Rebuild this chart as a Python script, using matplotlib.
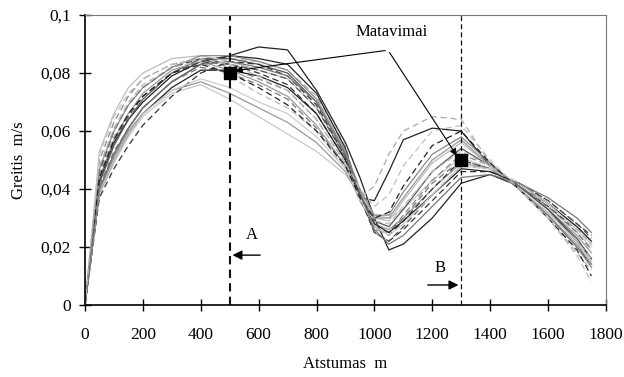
import matplotlib
matplotlib.use("Agg")
import matplotlib.pyplot as plt

# distances (m)
distance = [0, 50, 100, 150, 200, 300, 400, 500, 600, 700, 800, 900, 950,
            1000, 1050, 1100, 1200, 1300, 1400, 1500, 1600, 1700, 1750]

# velocity curves (m/s)
v01 = [0, .040, .052, .061, .068, .077, .083, .086, .089, .088, .074, .056, .044, .030, .019, .021, .030, .042, .045, .041, .033, .022, .016]
v02 = [0, .045, .058, .066, .072, .080, .084, .085, .084, .081, .072, .055, .037, .041, .052, .060, .065, .064, .049, .040, .030, .018, .012]
v03 = [0, .043, .056, .064, .070, .079, .084, .086, .085, .083, .073, .054, .037, .036, .046, .057, .061, .060, .048, .040, .031, .020, .014]
v04 = [0, .038, .049, .058, .065, .073, .076, .071, .065, .059, .053, .045, .038, .031, .030, .033, .043, .051, .047, .041, .034, .025, .020]
v05 = [0, .040, .051, .060, .066, .074, .077, .073, .068, .063, .056, .046, .037, .028, .026, .030, .040, .049, .047, .041, .033, .024, .018]
v06 = [0, .046, .060, .069, .075, .082, .085, .083, .080, .076, .066, .050, .038, .027, .024, .029, .040, .050, .047, .041, .034, .026, .021]
v07 = [0, .050, .063, .072, .078, .083, .085, .082, .078, .074, .064, .049, .037, .026, .025, .031, .043, .052, .048, .041, .035, .027, .022]
v08 = [0, .042, .055, .064, .071, .080, .085, .085, .083, .080, .070, .052, .039, .029, .027, .033, .046, .054, .048, .041, .033, .023, .016]
v09 = [0, .053, .066, .075, .080, .085, .086, .084, .081, .078, .068, .051, .039, .030, .029, .036, .049, .056, .048, .040, .032, .022, .015]
v10 = [0, .037, .047, .055, .062, .072, .080, .084, .083, .079, .069, .051, .037, .025, .022, .026, .036, .046, .046, .042, .036, .028, .024]
v11 = [0, .041, .053, .061, .068, .077, .082, .080, .076, .071, .061, .048, .036, .027, .025, .030, .042, .050, .047, .041, .034, .025, .019]
v12 = [0, .044, .057, .066, .073, .081, .084, .081, .077, .072, .062, .048, .037, .030, .030, .037, .050, .057, .048, .040, .031, .021, .014]
v13 = [0, .039, .050, .059, .066, .075, .081, .081, .079, .075, .066, .050, .038, .028, .025, .029, .038, .047, .046, .042, .035, .027, .022]
v14 = [0, .048, .061, .070, .076, .082, .084, .079, .073, .068, .060, .047, .036, .029, .028, .034, .046, .053, .048, .040, .032, .022, .016]
v15 = [0, .043, .056, .065, .072, .080, .084, .083, .081, .078, .068, .051, .038, .025, .022, .027, .038, .048, .047, .042, .036, .028, .023]
v16 = [0, .039, .050, .059, .066, .074, .078, .075, .070, .066, .058, .047, .037, .027, .024, .028, .038, .048, .047, .042, .035, .026, .021]
v17 = [0, .047, .060, .069, .075, .082, .086, .086, .084, .081, .071, .053, .040, .031, .031, .039, .052, .058, .049, .040, .031, .020, .013]
v18 = [0, .044, .057, .066, .072, .080, .083, .080, .075, .069, .060, .048, .037, .030, .032, .041, .055, .060, .049, .040, .030, .019, .010]
v19 = [0, .040, .052, .061, .068, .077, .083, .084, .082, .079, .070, .052, .039, .026, .021, .024, .034, .044, .045, .042, .037, .030, .025]
v20 = [0, .052, .065, .073, .078, .083, .085, .083, .079, .074, .064, .049, .040, .034, .038, .048, .060, .062, .050, .040, .030, .017, .008]

curves = [v01, v02, v03, v04, v05, v06, v07, v08, v09, v10,
          v11, v12, v13, v14, v15, v16, v17, v18, v19, v20]

# measured points
meas_x = [500, 1300]
meas_v = [0.080, 0.050]

x_ticks = [0, 200, 400, 600, 800, 1000, 1200, 1400, 1600, 1800]
y_ticks = [0, 0.02, 0.04, 0.06, 0.08, 0.1]
y_tick_labels = ["0", "0,02", "0,04", "0,06", "0,08", "0,1"]

# styles (colour, dash)
styles = [
    ("#222222", "-"), ("#aaaaaa", (0, (5, 3))), ("#222222", "-"), ("#c8c8c8", "-"),
    ("#999999", "-"), ("#333333", (0, (5, 3))), ("#888888", (0, (5, 3))), ("#555555", "-"),
    ("#bbbbbb", "-"), ("#333333", (0, (5, 3))), ("#777777", (0, (5, 3))), ("#999999", "-"),
    ("#222222", "-"), ("#bbbbbb", (0, (5, 3))), ("#555555", (0, (5, 3))), ("#cccccc", "-"),
    ("#888888", "-"), ("#222222", (0, (5, 3))), ("#777777", "-"), ("#c0c0c0", (0, (5, 3))),
]

plt.rcParams["font.family"] = ["Liberation Serif", "DejaVu Serif"]

fig = plt.figure(figsize=(6.24, 3.77), dpi=100)
ax = fig.add_axes([0.1362, 0.191, 0.8348, 0.769])

for v, (c, ls) in zip(curves, styles):
    ax.plot(distance, v, color=c, linestyle=ls, linewidth=0.9)

# vertical section lines
ax.axvline(500, color="#111111", linestyle=(0, (4, 2.5)), linewidth=1.5)
ax.axvline(1300, color="#111111", linestyle=(0, (4, 2.5)), linewidth=0.9)

ax.plot(meas_x, meas_v, linestyle="none", marker="s", color="black", markersize=8)

# annotation "Matavimai"
ax.text(1060, 0.0915, "Matavimai", ha="center", va="bottom", fontsize=12)
ax.annotate("", xy=(meas_x[0] + 10, meas_v[0] + 0.0007), xytext=(1047, 0.0879),
            arrowprops=dict(arrowstyle="-|>", color="black", lw=0.8, mutation_scale=10))
ax.annotate("", xy=(meas_x[1] - 10, meas_v[1] + 0.0007), xytext=(1047, 0.0879),
            arrowprops=dict(arrowstyle="-|>", color="black", lw=0.8, mutation_scale=10))

# A / B markers
ax.text(577, 0.0215, "A", ha="center", va="bottom", fontsize=12)
ax.annotate("", xy=(500, 0.0172), xytext=(615, 0.0172),
            arrowprops=dict(arrowstyle="-|>", color="black", lw=1.0, mutation_scale=14))
ax.text(1227, 0.0100, "B", ha="center", va="bottom", fontsize=12)
ax.annotate("", xy=(1300, 0.0069), xytext=(1175, 0.0069),
            arrowprops=dict(arrowstyle="-|>", color="black", lw=1.0, mutation_scale=14))

ax.set_xlim(0, 1800)
ax.set_ylim(0, 0.1)
ax.set_xticks(x_ticks)
ax.set_xticklabels([str(t) for t in x_ticks])
ax.set_yticks(y_ticks)
ax.set_yticklabels(y_tick_labels)
ax.tick_params(direction="inout", length=8, width=1, labelsize=12.5)
ax.tick_params(axis="x", pad=12)
ax.tick_params(axis="y", pad=6)

for s in ("left", "bottom"):
    ax.spines[s].set_color("black")
    ax.spines[s].set_linewidth(1.2)
for s in ("top", "right"):
    ax.spines[s].set_color("#777777")
    ax.spines[s].set_linewidth(0.8)

ax.set_xlabel("Atstumas  m", fontsize=12, labelpad=9)
ax.set_ylabel("Greitis  m/s", fontsize=12, labelpad=10)

fig.savefig("out.png", dpi=100)
